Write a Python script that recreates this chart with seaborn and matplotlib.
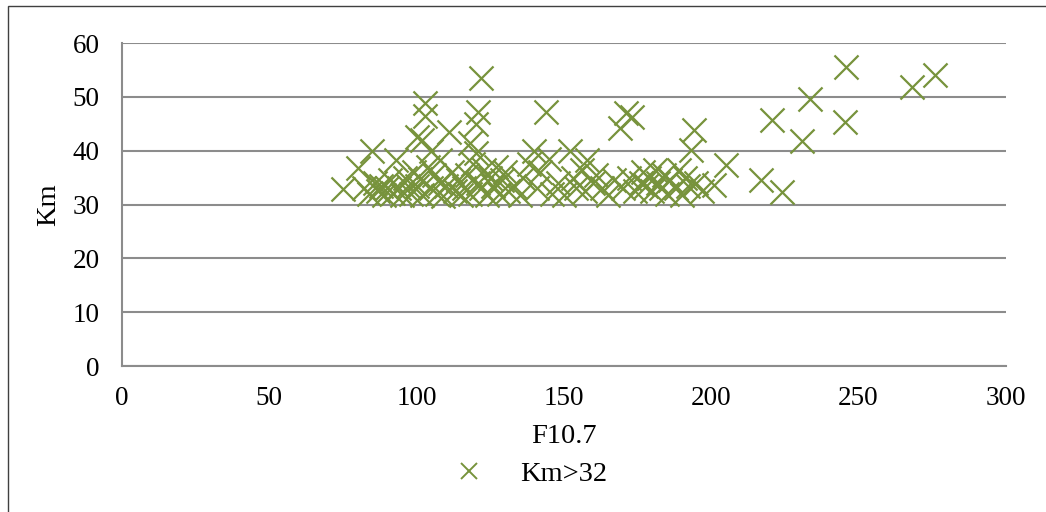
import matplotlib
matplotlib.use("Agg")
import matplotlib.pyplot as plt
import seaborn as sns
import pandas as pd
from matplotlib.lines import Line2D
from matplotlib.patches import Rectangle

# F10.7 vs Km values
f107 = [75, 80, 82, 84, 85, 86, 87, 88, 89, 90, 91, 92, 93, 94, 95, 96, 97, 98, 99,
        100, 100, 101, 102, 102, 103, 103, 104, 105, 105, 106, 107, 108, 108, 109, 110,
        111, 112, 113, 114, 115, 116, 117, 118, 118, 119, 120, 120, 121, 121, 122, 122,
        123, 124, 125, 126, 127, 128, 129, 130, 131, 133, 135, 136, 138, 140, 141, 142,
        144, 145, 146, 148, 150, 152, 153, 154, 156, 157, 158, 160, 161, 163, 165, 167,
        169, 170, 171, 172, 173, 174, 176, 177, 178, 179, 180, 181, 182, 183, 184, 185,
        186, 188, 189, 190, 191, 192, 193, 194, 195, 197, 201, 205, 217, 224, 220.6,
        230.8, 233.5, 245.3, 245.7, 268, 275.9]
km = [32.8, 36.8, 33.0, 32.0, 40.0, 34.0, 32.5, 33.5, 31.8, 33.0, 34.5, 32.2, 38.3,
      33.0, 31.8, 35.0, 33.5, 32.0, 36.0, 42.5, 33.5, 34.8, 42.0, 31.8, 48.8, 46.5,
      37.0, 40.0, 33.0, 35.5, 32.0, 38.3, 34.0, 31.5, 33.5, 43.5, 36.0, 32.5, 34.5,
      31.8, 33.0, 35.5, 41.4, 32.0, 37.5, 39.6, 45.0, 34.0, 47.2, 53.5, 33.0, 36.5,
      31.8, 35.0, 33.5, 37.0, 32.0, 34.5, 36.0, 32.5, 33.5, 31.8, 35.0, 37.5, 40.0,
      33.0, 36.0, 47.2, 38.5, 32.0, 34.0, 31.8, 40.0, 35.0, 33.0, 36.5, 32.5, 38.3,
      34.0, 35.5, 33.0, 31.8, 34.5, 44.2, 33.0, 47.0, 35.0, 46.3, 32.5, 34.0, 36.0,
      33.5, 35.0, 32.5, 36.5, 34.0, 33.0, 35.5, 32.0, 34.5, 33.0, 36.5, 31.8, 35.0,
      33.5, 40.1, 43.8, 34.0, 32.5, 33.6, 37.3, 34.5, 32.3, 45.7, 41.8, 49.6, 45.3,
      55.5, 51.8, 54.0]
series_name = "Km>32"
x_ticks = [0, 50, 100, 150, 200, 250, 300]
y_ticks = [0, 10, 20, 30, 40, 50, 60]

df = pd.DataFrame({"F10.7": f107, "Km": km})

green = "#77933C"
grid_c = "#8C8C8C"

sns.set_theme(style="white")
plt.rcParams["font.family"] = ["Liberation Serif", "DejaVu Serif"]
plt.rcParams["text.color"] = "black"

fig = plt.figure(figsize=(10.46, 5.12), dpi=100)
ax = fig.add_axes([0.1166, 0.285, 0.845, 0.631])

# outer chart frame (left and top edges visible)
fig.patches.append(Rectangle((8 / 1046, -0.05), 1.2, 1.05 - 6 / 512,
                             transform=fig.transFigure, fill=False,
                             edgecolor="#404040", linewidth=1.0))

sns.scatterplot(data=df, x="F10.7", y="Km", marker="x", s=300, color=green,
                linewidth=1.6, ax=ax, legend=False, zorder=3)

ax.set_xlim(0, 300)
ax.set_ylim(0, 60)
ax.set_xticks(x_ticks)
ax.set_yticks(y_ticks)
ax.yaxis.grid(True, color=grid_c, linewidth=1.5)
ax.set_axisbelow(True)
for s in ["top", "right"]:
    ax.spines[s].set_visible(False)
for s in ["left", "bottom"]:
    ax.spines[s].set_color(grid_c)
    ax.spines[s].set_linewidth(1.5)
ax.tick_params(axis="both", which="both", direction="out", length=5, width=1.5,
               color=grid_c, labelsize=19.5, labelcolor="black")
ax.tick_params(axis="x", pad=9)
ax.tick_params(axis="y", pad=11)
ax.set_xlabel("F10.7", fontsize=20.5, labelpad=10, color="black")
ax.set_ylabel("Km", fontsize=20.5, labelpad=8, color="black")

handle = Line2D([], [], linestyle="none", marker="x", markersize=12,
                markeredgewidth=1.4, color=green)
fig.legend([handle], [series_name], loc="center", bbox_to_anchor=(0.501, 0.074),
           frameon=False, fontsize=20.5, handletextpad=0.82, borderpad=0)

fig.savefig("out.png", dpi=100)
